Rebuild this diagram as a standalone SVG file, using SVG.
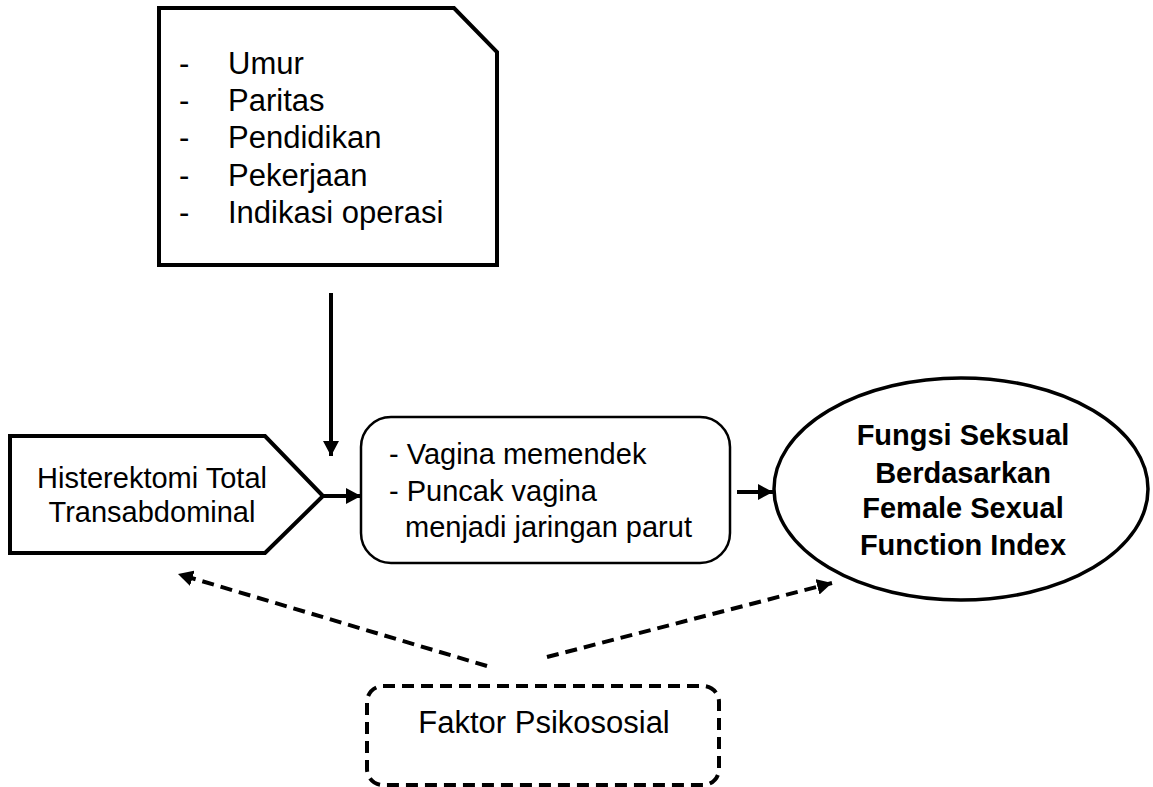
<svg xmlns="http://www.w3.org/2000/svg" width="1153" height="787" viewBox="0 0 1153 787">
<style>
text{font-family:"Liberation Sans",Arial,sans-serif;fill:#000}
.shape{fill:#fff;stroke:#000}
.conn{stroke:#000;stroke-width:4;fill:none}
.dash{stroke-dasharray:12 7}
</style>
<defs>
<marker id="ah" markerUnits="userSpaceOnUse" markerWidth="16" markerHeight="16" refX="15" refY="8" orient="auto">
<path d="M0,0 L15,8 L0,16 z" fill="#000"/>
</marker>
</defs>
<rect width="1153" height="787" fill="#fff"/>
<g id="faktor-list">
<path class="shape" stroke-width="4" d="M159,8 L454,8 L497,52 L497,265 L159,265 Z"/>
<g font-size="31">
<text x="179" y="74">-</text><text x="228" y="74">Umur</text>
<text x="179" y="111">-</text><text x="228" y="111">Paritas</text>
<text x="179" y="148">-</text><text x="228" y="148">Pendidikan</text>
<text x="179" y="186">-</text><text x="228" y="186">Pekerjaan</text>
<text x="179" y="223">-</text><text x="228" y="223">Indikasi operasi</text>
</g>
</g>
<g id="histerektomi">
<path class="shape" stroke-width="4" d="M10,436 L265,436 L323,496 L265,553 L10,553 Z"/>
<text x="152" y="488" font-size="29" text-anchor="middle">Histerektomi Total</text>
<text x="152" y="522" font-size="29" text-anchor="middle">Transabdominal</text>
</g>
<g id="vagina">
<rect class="shape" stroke-width="2.5" x="361" y="417" width="369" height="146" rx="30"/>
<text x="389" y="464" font-size="29">- Vagina memendek</text>
<text x="389" y="501" font-size="29">- Puncak vagina</text>
<text x="405" y="537" font-size="29">menjadi jaringan parut</text>
</g>
<g id="fungsi">
<ellipse class="shape" stroke-width="3.5" cx="961" cy="489" rx="187" ry="111"/>
<g font-size="29" font-weight="bold" text-anchor="middle">
<text x="963" y="445">Fungsi Seksual</text>
<text x="963" y="483">Berdasarkan</text>
<text x="963" y="518">Female Sexual</text>
<text x="963" y="555">Function Index</text>
</g>
</g>
<g id="psikososial">
<rect class="shape dash" stroke-width="4" x="367" y="686" width="352" height="99" rx="16"/>
<text x="544" y="733" font-size="31" text-anchor="middle">Faktor Psikososial</text>
</g>
<g id="connectors">
<line class="conn" x1="331" y1="293" x2="331" y2="456" marker-end="url(#ah)"/>
<line class="conn" x1="323" y1="496" x2="361" y2="496" marker-end="url(#ah)"/>
<line class="conn" x1="737" y1="492" x2="773" y2="492" marker-end="url(#ah)"/>
<line class="conn dash" x1="487" y1="666" x2="178" y2="574" marker-end="url(#ah)"/>
<line class="conn dash" x1="547" y1="657" x2="832" y2="583" marker-end="url(#ah)"/>
</g>
</svg>
